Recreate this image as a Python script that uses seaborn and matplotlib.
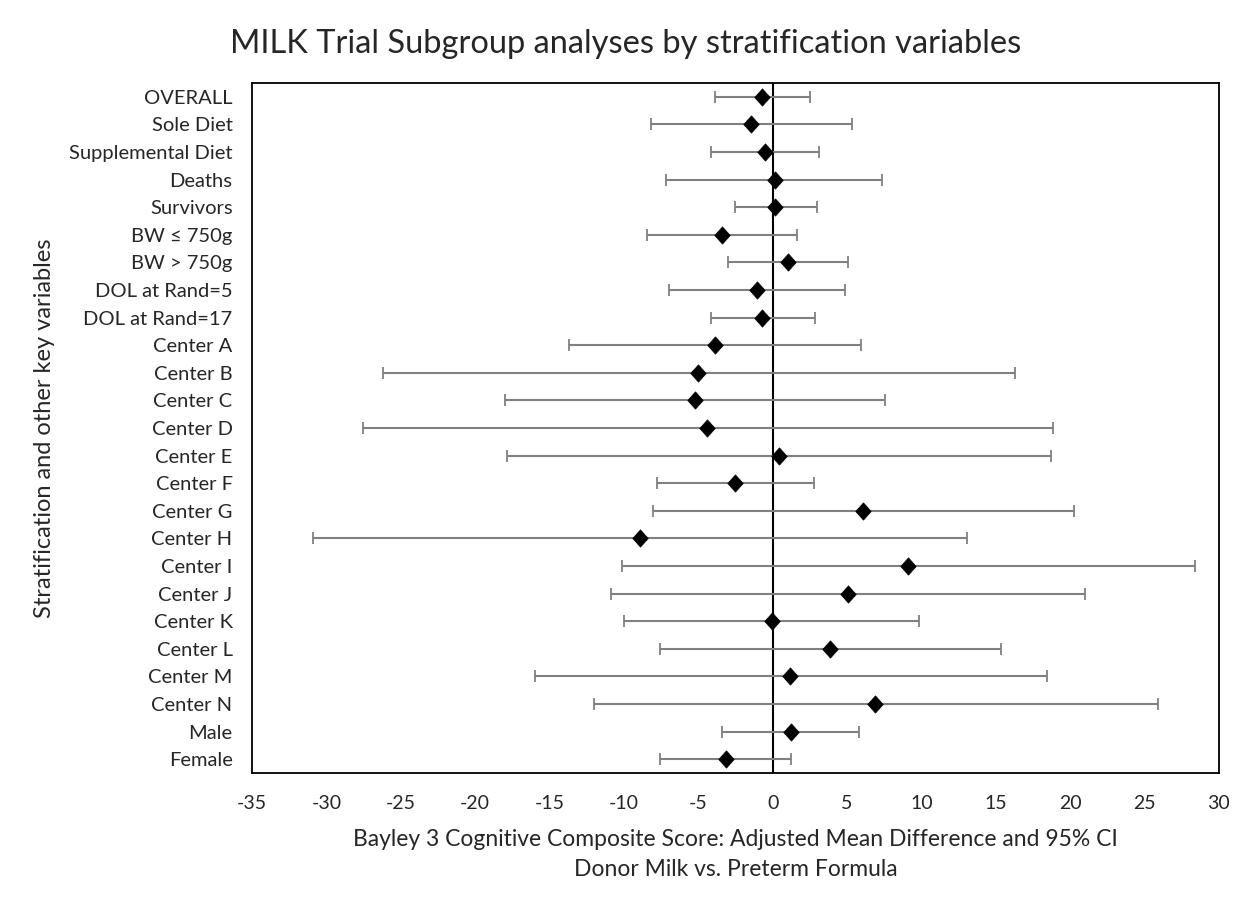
import matplotlib
matplotlib.use("Agg")
import matplotlib.pyplot as plt
from matplotlib.path import Path
import seaborn as sns
import pandas as pd
import numpy as np

categories = ["OVERALL", "Sole Diet", "Supplemental Diet", "Deaths", "Survivors",
              "BW \u2264 750g", "BW > 750g", "DOL at Rand=5", "DOL at Rand=17",
              "Center A", "Center B", "Center C", "Center D", "Center E", "Center F",
              "Center G", "Center H", "Center I", "Center J", "Center K", "Center L",
              "Center M", "Center N", "Male", "Female"]
estimates = [-0.7, -1.45, -0.55, 0.18, 0.18, -3.4, 1.05, -1.05, -0.7,
             -3.85, -5.0, -5.25, -4.4, 0.42, -2.55, 6.05, -8.9, 9.1, 5.08,
             -0.07, 3.88, 1.14, 6.88, 1.26, -3.15]
lower = [-3.87, -8.2, -4.14, -7.2, -2.52, -8.43, -3.0, -6.96, -4.14,
         -13.68, -26.2, -17.97, -27.57, -17.85, -7.8, -8.04, -30.87, -10.14, -10.87,
         -10.0, -7.57, -16.0, -11.98, -3.41, -7.57]
upper = [2.49, 5.31, 3.12, 7.38, 3.0, 1.62, 5.04, 4.86, 2.85,
         5.94, 16.26, 7.53, 18.82, 18.69, 2.77, 20.28, 13.04, 28.38, 21.02,
         9.83, 15.32, 18.45, 25.9, 5.77, 1.26]
xticks = list(range(-35, 31, 5))

df = pd.DataFrame({"cat": categories, "est": estimates, "lo": lower, "hi": upper})
df["pos"] = np.arange(len(df))

sns.set_theme(style="white")
plt.rcParams["font.family"] = ["Lato", "DejaVu Sans"]

diamond = Path([(0, 1), (0.9, 0), (0, -1), (-0.9, 0), (0, 1)],
               [Path.MOVETO, Path.LINETO, Path.LINETO, Path.LINETO, Path.CLOSEPOLY])

fig = plt.figure(figsize=(12.52, 9.02), dpi=100)
ax = fig.add_axes([252/1252, 1-773/902, (1219-252)/1252, (773-83)/902])

ax.errorbar(df["est"], df["pos"],
            xerr=[df["est"] - df["lo"], df["hi"] - df["est"]],
            fmt="none", ecolor="#808080", elinewidth=1.5, capsize=4.5, capthick=1.3,
            zorder=2)
ax.axvline(0, color="black", lw=1.5, zorder=1)
sns.scatterplot(data=df, x="est", y="pos", marker=diamond, s=155, color="black",
                edgecolor="black", linewidth=0.5, ax=ax, zorder=3, legend=False)

ax.set_xlim(-35, 30)
ax.set_ylim(len(df) - 0.5, -0.5)
ax.set_yticks(df["pos"])
ax.set_yticklabels(df["cat"], fontsize=14.5)
ax.set_xticks(xticks)
ax.set_xticklabels([str(t) for t in xticks], fontsize=14)
ax.tick_params(axis="y", length=0, pad=14)
ax.tick_params(axis="x", length=0, pad=16)
for s in ax.spines.values():
    s.set_color("black")
    s.set_linewidth(1.3)

ax.set_xlabel("Bayley 3 Cognitive Composite Score: Adjusted Mean Difference and 95% CI\n"
              "Donor Milk vs. Preterm Formula", fontsize=16.5, labelpad=12,
              linespacing=1.55)
ax.set_ylabel("Stratification and other key variables", fontsize=17, labelpad=10)
fig.suptitle("MILK Trial Subgroup analyses by stratification variables",
             fontsize=23.5, x=0.5, y=0.968)

fig.savefig("out.png", dpi=100, facecolor="white")
